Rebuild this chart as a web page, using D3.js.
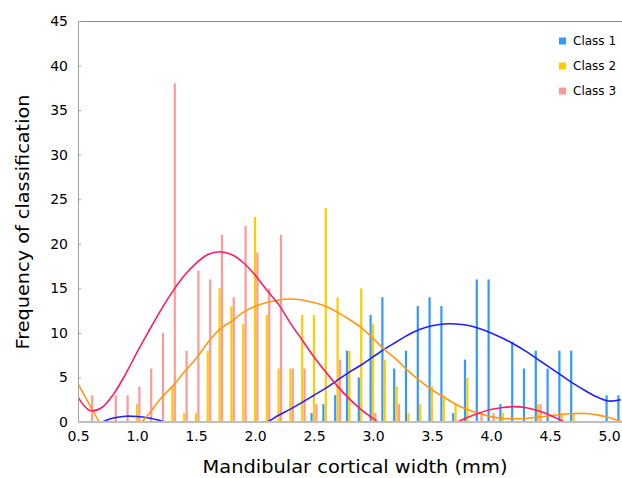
<!DOCTYPE html>
<html><head><meta charset="utf-8">
<script src="https://cdn.jsdelivr.net/npm/d3@7"></script>
<style>body{margin:0;background:#fff} svg{display:block}</style>
</head><body>
<script>
// ---- data ----
const bins = [0.5,0.6,0.7,0.8,0.9,1.0,1.1,1.2,1.3,1.4,1.5,1.6,1.7,1.8,1.9,2.0,2.1,2.2,2.3,2.4,2.5,2.6,2.7,2.8,2.9,3.0,3.1,3.2,3.3,3.4,3.5,3.6,3.7,3.8,3.9,4.0,4.1,4.2,4.3,4.4,4.5,4.6,4.7,4.8,4.9,5.0,5.1];
const class1 = [0,0,0,0,0,0,0,0,0,0,0,0,0,0,0,0,0,0,0,0,1,2,3,8,5,12,14,6,8,13,14,13,1,7,16,16,2,9,6,8,6,8,8,0,0,3,3];
const class2 = [0,0,0,0,0,2,0,0,4,1,1,8,15,13,11,23,12,6,6,12,12,24,14,8,15,11,7,4,1,2,4,3,2,5,0,0,1,0,0,2,0,1,1,0,0,0,0];
const class3 = [0,3,0,3,3,4,6,10,38,8,17,16,21,14,22,19,15,21,6,6,2,0,7,0,0,1,0,2,0,0,0,0,0,0,1,1,0,0,0,2,0,0,0,0,0,0,0];
// polynomial trendline values at each bin (negative parts are hidden below the axis)
const trend1 = [-1.5,-0.5,0.0,0.45,0.65,0.62,0.45,0.15,-0.2,-0.5,-0.8,-1.0,-1.0,-0.9,-0.6,-0.3,0.0,0.75,1.45,2.2,3.0,3.8,4.7,5.6,6.4,7.3,8.2,9.0,9.8,10.4,10.8,11.0,11.0,10.85,10.5,10.0,9.4,8.7,7.9,7.0,6.1,5.2,4.3,3.5,2.8,2.35,2.5];
const trend2 = [4.3,1.9,-0.3,-1.2,-1.2,-0.5,0.9,2.6,4.0,5.6,7.1,8.9,10.4,11.3,12.3,13.0,13.4,13.7,13.8,13.7,13.4,13.0,12.3,11.5,10.6,9.4,8.1,7.0,5.7,4.6,3.6,2.8,2.0,1.4,0.95,0.6,0.4,0.35,0.4,0.55,0.7,0.85,0.95,0.95,0.8,0.5,0.05];
const trend3 = [2.8,1.3,1.6,3.1,5.3,7.8,10.2,12.5,14.6,16.4,17.8,18.8,19.1,18.8,17.9,16.5,14.8,13.2,11.1,9.2,7.3,5.6,4.0,2.6,1.4,0.4,-0.5,-1.2,-1.6,-1.6,-1.2,-0.7,-0.1,0.5,1.0,1.4,1.62,1.72,1.6,1.25,0.75,0.15,-0.6,-1.5,-2.5,-3.5,-4.5];
const seriesNames = ["Class 1","Class 2","Class 3"];
const barColors = ["#3399ff","#ffcc00","#ff9999"];
const trendColors = ["#1f1fff","#ff9911","#ff1a66"];
const yTicks = [0,5,10,15,20,25,30,35,40,45];
const xTicks = [0.5,1.0,1.5,2.0,2.5,3.0,3.5,4.0,4.5,5.0];
const xTitle = "Mandibular cortical width (mm)";
const yTitle = "Frequency of classification";

// ---- layout ----
const W = 622, H = 478;
const L = 78, T = 21, B = 422, R = 622;
const x = d3.scaleLinear().domain([0.5, 5.1]).range([L, L + 46 * 11.8]);
const y = d3.scaleLinear().domain([0, 45]).range([B, T]);

const svg = d3.select("body").append("svg").attr("width", W).attr("height", H)
  .style("font-family", "'DejaVu Sans', Verdana, sans-serif");

svg.append("defs").append("clipPath").attr("id", "plot")
  .append("rect").attr("x", L).attr("y", T).attr("width", R - L).attr("height", B - T);

const series = [class1, class2, class3];
const trends = [trend1, trend2, trend3];
const barW = 2.2, barStep = 2.4;

const gBars = svg.append("g").attr("clip-path", "url(#plot)");
series.forEach((vals, si) => {
  gBars.selectAll(null).data(bins.map((b, i) => ({b, v: vals[i]})).filter(d => d.v > 0))
    .enter().append("rect")
    .attr("x", d => x(d.b) + (si - 1) * barStep - barW / 2)
    .attr("y", d => y(d.v))
    .attr("width", barW)
    .attr("height", d => y(0) - y(d.v))
    .attr("fill", barColors[si]);
});

const gTrend = svg.append("g").attr("clip-path", "url(#plot)");
const line = d3.line().x(d => x(d[0])).y(d => y(d[1])).curve(d3.curveCatmullRom.alpha(0.5));
trends.forEach((vals, si) => {
  gTrend.append("path").datum(bins.map((b, i) => [b, vals[i]]))
    .attr("d", line)
    .attr("fill", "none").attr("stroke", trendColors[si]).attr("stroke-width", 1.6);
});

// axes
svg.append("line").attr("x1", L).attr("x2", R).attr("y1", T + 0.5).attr("y2", T + 0.5)
  .attr("stroke", "#8c8c8c").attr("stroke-width", 1);
const yAxis = svg.append("g").attr("transform", `translate(${L},0)`)
  .call(d3.axisLeft(y).tickValues(yTicks).tickSizeInner(-3).tickSizeOuter(0).tickPadding(10));
yAxis.select(".domain").attr("stroke", "#a0a0a0");
yAxis.selectAll(".tick line").attr("stroke", "#a0a0a0");
yAxis.selectAll("text").attr("font-size", 14).attr("fill", "#000").attr("font-family", "'DejaVu Sans', sans-serif");

const xAxis = svg.append("g").attr("transform", `translate(0,${B})`)
  .call(d3.axisBottom(x).tickValues(xTicks).tickFormat(d3.format(".1f")).tickSize(0).tickPadding(9));
xAxis.select(".domain").remove();
xAxis.selectAll("text").attr("font-size", 14).attr("fill", "#000").attr("font-family", "'DejaVu Sans', sans-serif");
svg.append("line").attr("x1", L).attr("x2", R).attr("y1", B).attr("y2", B)
  .attr("stroke", "#bfbfbf").attr("stroke-width", 2);

// titles
svg.append("text").attr("x", 355).attr("y", 473).attr("text-anchor", "middle")
  .attr("font-size", 18).attr("textLength", 305).attr("lengthAdjust", "spacingAndGlyphs")
  .text(xTitle);
svg.append("text").attr("transform", "translate(29,222) rotate(-90)").attr("text-anchor", "middle")
  .attr("font-size", 18).attr("textLength", 255).attr("lengthAdjust", "spacingAndGlyphs")
  .text(yTitle);

// legend
const lg = svg.append("g");
seriesNames.forEach((n, i) => {
  const cy = 41 + i * 25;
  lg.append("rect").attr("x", 559).attr("y", cy - 3.5).attr("width", 7).attr("height", 7).attr("fill", barColors[i]);
  lg.append("text").attr("x", 573).attr("y", cy).attr("dy", "0.35em").attr("font-size", 12).text(n);
});
</script>
</body></html>
